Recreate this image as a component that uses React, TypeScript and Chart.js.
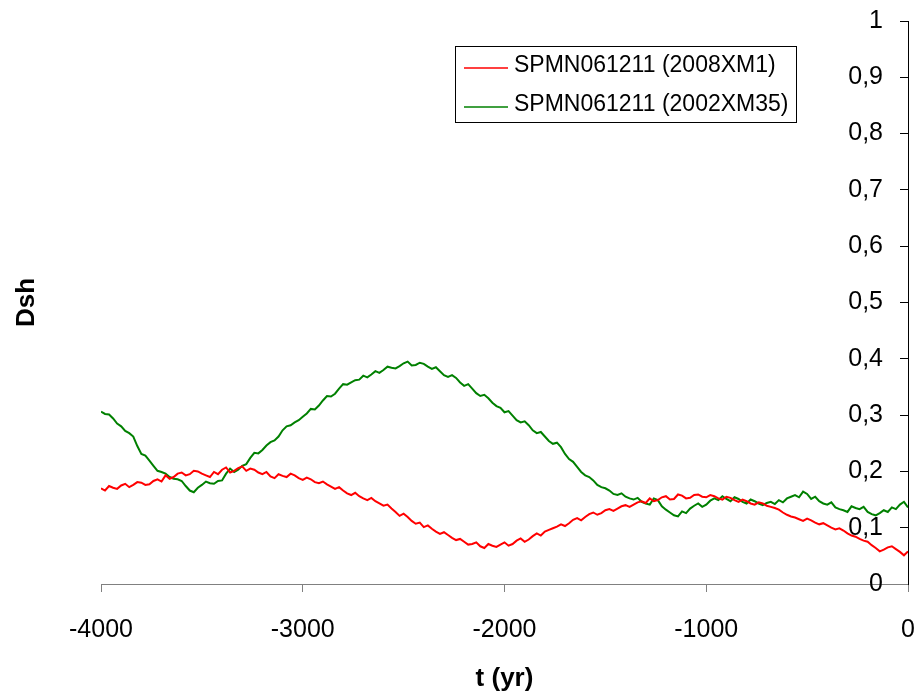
import React, { useEffect, useRef } from 'react';
import { Chart, registerables } from 'chart.js';

Chart.register(...registerables);

const T_YEARS = [
  -4000, -3980, -3960, -3940, -3920, -3900, -3880, -3860, -3840, -3820,
  -3800, -3780, -3760, -3740, -3720, -3700, -3680, -3660, -3640, -3620,
  -3600, -3580, -3560, -3540, -3520, -3500, -3480, -3460, -3440, -3420,
  -3400, -3380, -3360, -3340, -3320, -3300, -3280, -3260, -3240, -3220,
  -3200, -3180, -3160, -3140, -3120, -3100, -3080, -3060, -3040, -3020,
  -3000, -2980, -2960, -2940, -2920, -2900, -2880, -2860, -2840, -2820,
  -2800, -2780, -2760, -2740, -2720, -2700, -2680, -2660, -2640, -2620,
  -2600, -2580, -2560, -2540, -2520, -2500, -2480, -2460, -2440, -2420,
  -2400, -2380, -2360, -2340, -2320, -2300, -2280, -2260, -2240, -2220,
  -2200, -2180, -2160, -2140, -2120, -2100, -2080, -2060, -2040, -2020,
  -2000, -1980, -1960, -1940, -1920, -1900, -1880, -1860, -1840, -1820,
  -1800, -1780, -1760, -1740, -1720, -1700, -1680, -1660, -1640, -1620,
  -1600, -1580, -1560, -1540, -1520, -1500, -1480, -1460, -1440, -1420,
  -1400, -1380, -1360, -1340, -1320, -1300, -1280, -1260, -1240, -1220,
  -1200, -1180, -1160, -1140, -1120, -1100, -1080, -1060, -1040, -1020,
  -1000, -980, -960, -940, -920, -900, -880, -860, -840, -820,
  -800, -780, -760, -740, -720, -700, -680, -660, -640, -620,
  -600, -580, -560, -540, -520, -500, -480, -460, -440, -420,
  -400, -380, -360, -340, -320, -300, -280, -260, -240, -220,
  -200, -180, -160, -140, -120, -100, -80, -60, -40, -20, 0,
];

const RED_2008XM1 = [
  0.170, 0.166, 0.174, 0.171, 0.169, 0.175, 0.178, 0.172, 0.176, 0.181,
  0.180, 0.176, 0.177, 0.183, 0.186, 0.182, 0.193, 0.187, 0.190, 0.196,
  0.198, 0.193, 0.195, 0.201, 0.200, 0.196, 0.193, 0.190, 0.199, 0.195,
  0.203, 0.207, 0.198, 0.201, 0.206, 0.209, 0.201, 0.205, 0.203, 0.198,
  0.195, 0.199, 0.191, 0.188, 0.195, 0.192, 0.190, 0.196, 0.193, 0.188,
  0.185, 0.189, 0.186, 0.181, 0.179, 0.182, 0.177, 0.173, 0.169, 0.172,
  0.166, 0.161, 0.158, 0.162, 0.156, 0.152, 0.149, 0.153, 0.147, 0.143,
  0.139, 0.141, 0.134, 0.128, 0.121, 0.125, 0.119, 0.112, 0.107, 0.109,
  0.101, 0.104, 0.098, 0.093, 0.089, 0.092, 0.087, 0.082, 0.078, 0.080,
  0.075, 0.070, 0.071, 0.074, 0.067, 0.064, 0.071, 0.068, 0.066, 0.070,
  0.074, 0.068, 0.071, 0.077, 0.081, 0.075, 0.079, 0.085, 0.090, 0.086,
  0.093, 0.096, 0.099, 0.102, 0.106, 0.103, 0.108, 0.114, 0.117, 0.113,
  0.119, 0.124, 0.127, 0.123, 0.126, 0.131, 0.133, 0.130, 0.134, 0.138,
  0.140, 0.137, 0.141, 0.145, 0.147, 0.144, 0.152, 0.147, 0.149, 0.154,
  0.156, 0.150, 0.151, 0.159, 0.157, 0.152, 0.153, 0.158, 0.159, 0.155,
  0.154, 0.158, 0.156, 0.152, 0.150, 0.155, 0.153, 0.149, 0.146, 0.150,
  0.147, 0.143, 0.141, 0.145, 0.143, 0.139, 0.137, 0.135, 0.132, 0.127,
  0.123, 0.120, 0.118, 0.115, 0.112, 0.116, 0.113, 0.109, 0.106, 0.108,
  0.104, 0.100, 0.097, 0.099, 0.095, 0.090, 0.086, 0.084, 0.080, 0.077,
  0.075, 0.069, 0.064, 0.058, 0.061, 0.065, 0.067, 0.062, 0.057, 0.051, 0.058,
];

const GREEN_2002XM35 = [
  0.306, 0.302, 0.301, 0.294, 0.285, 0.280, 0.272, 0.268, 0.262, 0.245,
  0.231, 0.228, 0.219, 0.210, 0.201, 0.199, 0.196, 0.190, 0.187, 0.186,
  0.183, 0.174, 0.166, 0.163, 0.171, 0.176, 0.182, 0.179, 0.178, 0.183,
  0.184, 0.196, 0.205, 0.199, 0.203, 0.210, 0.213, 0.224, 0.233, 0.232,
  0.238, 0.246, 0.252, 0.255, 0.262, 0.273, 0.280, 0.282, 0.287, 0.291,
  0.297, 0.303, 0.311, 0.310, 0.317, 0.326, 0.334, 0.333, 0.338, 0.347,
  0.355, 0.354, 0.358, 0.362, 0.363, 0.370, 0.367, 0.372, 0.378, 0.375,
  0.380, 0.386, 0.384, 0.383, 0.387, 0.392, 0.395, 0.388, 0.389, 0.393,
  0.391, 0.386, 0.382, 0.385, 0.378, 0.371, 0.368, 0.371, 0.366, 0.358,
  0.352, 0.355, 0.347, 0.339, 0.334, 0.336, 0.330, 0.322, 0.316, 0.313,
  0.305, 0.307, 0.299, 0.291, 0.287, 0.289, 0.282, 0.273, 0.268, 0.270,
  0.262, 0.254, 0.249, 0.251, 0.243, 0.231, 0.222, 0.217, 0.208, 0.199,
  0.193, 0.190, 0.184, 0.176, 0.172, 0.170, 0.166, 0.160, 0.158, 0.161,
  0.155, 0.152, 0.150, 0.153, 0.146, 0.143, 0.141, 0.152, 0.149, 0.138,
  0.132, 0.127, 0.122, 0.120, 0.129, 0.126, 0.134, 0.139, 0.143, 0.137,
  0.141, 0.148, 0.152, 0.149, 0.156, 0.151, 0.147, 0.154, 0.151, 0.146,
  0.143, 0.150, 0.147, 0.143, 0.140, 0.144, 0.146, 0.142, 0.149, 0.145,
  0.152, 0.155, 0.158, 0.154, 0.164, 0.160, 0.151, 0.155, 0.147, 0.143,
  0.141, 0.145, 0.136, 0.133, 0.131, 0.128, 0.138, 0.135, 0.133, 0.137,
  0.128, 0.124, 0.122, 0.126, 0.131, 0.128, 0.136, 0.133, 0.141, 0.146, 0.136,
];

const SERIES_LABELS = ['SPMN061211 (2008XM1)', 'SPMN061211 (2002XM35)'];
const X_TICK_LABELS = ['-4000', '-3000', '-2000', '-1000', '0'];
const Y_TICK_LABELS = ['0', '0,1', '0,2', '0,3', '0,4', '0,5', '0,6', '0,7', '0,8', '0,9', '1'];

const FONT = '"Liberation Sans", Arial, Helvetica, sans-serif';

const boxLegend = {
  id: 'boxLegend',
  afterDraw(chart: any) {
    const ctx = chart.ctx;
    ctx.save();
    ctx.strokeStyle = '#000';
    ctx.lineWidth = 1;
    ctx.strokeRect(455.5, 46.5, 341, 76);
    ctx.font = `23px ${FONT}`;
    ctx.textAlign = 'left';
    ctx.textBaseline = 'alphabetic';
    chart.data.datasets.forEach((ds: any, i: number) => {
      const y = 68 + i * 39;
      ctx.strokeStyle = ds.borderColor;
      ctx.lineWidth = 1.5;
      ctx.beginPath();
      ctx.moveTo(464, y);
      ctx.lineTo(508, y);
      ctx.stroke();
      ctx.fillStyle = '#000';
      ctx.fillText(ds.label, 514, 72 + i * 39);
    });
    ctx.restore();
  },
};

export default function App() {
  const canvasRef = useRef<HTMLCanvasElement | null>(null);

  useEffect(() => {
    if (!canvasRef.current) return;
    Chart.defaults.font.family = FONT;
    const chart = new Chart(canvasRef.current, {
      type: 'line',
      data: {
        datasets: [
          {
            label: SERIES_LABELS[0],
            data: T_YEARS.map((t, i) => ({ x: t, y: RED_2008XM1[i] })),
            borderColor: '#FF0000',
            backgroundColor: '#FF0000',
            borderWidth: 2,
            pointRadius: 0,
            tension: 0,
            xAxisID: 'x',
            yAxisID: 'y',
          },
          {
            label: SERIES_LABELS[1],
            data: T_YEARS.map((t, i) => ({ x: t, y: GREEN_2002XM35[i] })),
            borderColor: '#008000',
            backgroundColor: '#008000',
            borderWidth: 2,
            pointRadius: 0,
            tension: 0,
            xAxisID: 'x',
            yAxisID: 'y',
          },
        ],
      },
      options: {
        responsive: false,
        animation: false,
        layout: { padding: { top: 21, right: 0, bottom: 0, left: 0 } },
        plugins: {
          legend: { display: false },
          tooltip: { enabled: false },
        },
        scales: {
          x: {
            type: 'linear',
            position: 'bottom',
            min: -4000,
            max: 0,
            afterFit: (s: any) => {
              s.height = 110;
              s.paddingLeft = 0;
              s.paddingRight = 0;
            },
            ticks: {
              stepSize: 1000,
              color: '#000',
              font: { size: 25 },
              padding: 23,
              maxRotation: 0,
              autoSkip: false,
              callback: (_v: any, i: number) => X_TICK_LABELS[i],
            },
            grid: { drawOnChartArea: false, drawTicks: true, tickLength: 8, color: '#808080', lineWidth: 1 },
            border: { display: true, color: '#808080', width: 1 },
            title: {
              display: true,
              text: 't (yr)',
              color: '#000',
              font: { size: 26, weight: 'bold' },
              padding: { top: 0, bottom: 0 },
            },
          },
          y: {
            type: 'linear',
            position: 'right',
            min: 0,
            max: 1,
            afterFit: (s: any) => {
              s.width = 10;
              s.paddingTop = 0;
              s.paddingBottom = 0;
            },
            ticks: {
              stepSize: 0.1,
              mirror: true,
              crossAlign: 'near',
              padding: -25,
              color: '#000',
              font: { size: 25 },
              callback: (_v: any, i: number) => Y_TICK_LABELS[i],
            },
            grid: { drawOnChartArea: false, drawTicks: true, tickLength: -8, color: '#000', lineWidth: 1 },
            border: { display: true, color: '#000', width: 1 },
          },
          yTitle: {
            type: 'linear',
            position: 'left',
            min: 0,
            max: 1,
            afterFit: (s: any) => { s.width = 101; },
            ticks: { display: false },
            grid: { display: false },
            border: { display: false },
            title: {
              display: true,
              text: 'Dsh',
              color: '#000',
              font: { size: 26, weight: 'bold' },
              padding: { top: 11, bottom: 0 },
            },
          },
        },
      },
      plugins: [boxLegend],
    } as any);
    return () => chart.destroy();
  }, []);

  return (
    <div style={{ position: 'absolute', left: 0, top: 0, width: 918, height: 694, background: '#fff' }}>
      <canvas ref={canvasRef} width={918} height={694} style={{ width: 918, height: 694, display: 'block' }} />
    </div>
  );
}
